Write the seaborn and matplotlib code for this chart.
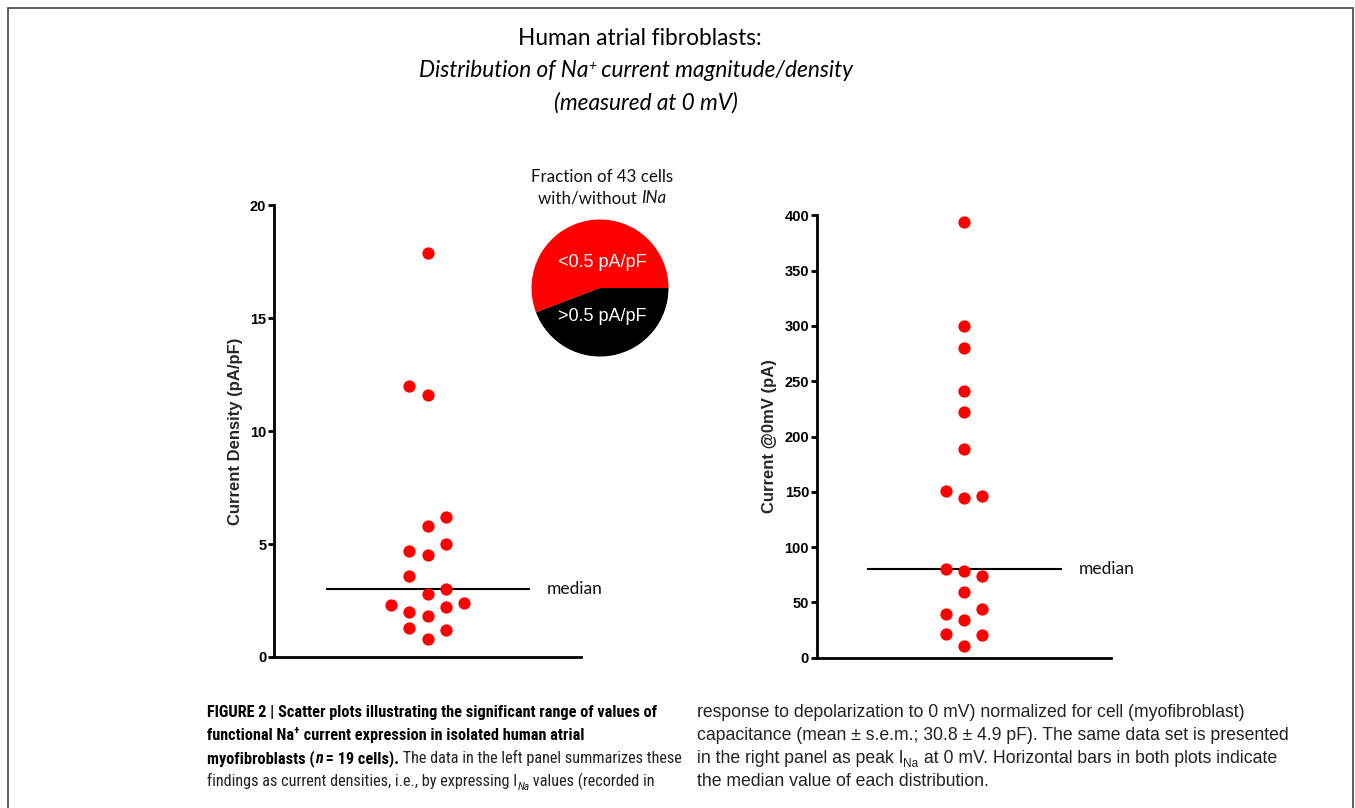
import numpy as np
import pandas as pd
import matplotlib
matplotlib.use("Agg")
import matplotlib.pyplot as plt
from matplotlib import font_manager
from matplotlib.patches import Rectangle
import seaborn as sns

# Peak I_Na at 0 mV for the 19 cells with a measurable current
density = [0.78, 1.18, 1.30, 1.80, 2.00, 2.20, 2.30, 2.39, 2.79, 2.99,
           3.59, 4.51, 4.70, 5.00, 5.79, 6.20, 11.6, 12.0, 17.9]      # pA/pF
current = [10.9, 20.5, 21.1, 34.4, 39.8, 43.7, 59.1, 74.1, 78.4, 80.2,
           144.1, 146.2, 151.0, 189.0, 222.4, 241.4, 280.3, 299.6, 394.2]  # pA
density_ticks = [0, 5, 10, 15, 20]
current_ticks = [0, 50, 100, 150, 200, 250, 300, 350, 400]

# Fraction of all 43 cells with / without a sodium current
pie_counts = [24, 19]
pie_labels = ["<0.5 pA/pF", ">0.5 pA/pF"]
pie_colors = ["#ff0000", "#000000"]

W, H = 1355, 808
sns.set_style("ticks")
plt.rcParams["font.family"] = ["Liberation Sans", "DejaVu Sans"]
HUMANIST = ["Lato", "DejaVu Sans"]


def narrow_font():
    """Best available condensed sans-serif for the legend's first column."""
    fonts = {(f.name, f.stretch) for f in font_manager.fontManager.ttflist}
    names = {n for n, _ in fonts}
    for name in ("Liberation Sans Narrow", "Roboto Condensed",
                 "Open Sans Condensed", "Arial Narrow"):
        if name in names:
            return dict(family=[name, "DejaVu Sans"])
    if any(n == "DejaVu Sans" and "condensed" in str(s) for n, s in fonts):
        return dict(family=["DejaVu Sans"], fontstretch="condensed")
    return dict(family=["Liberation Sans", "DejaVu Sans"])


fig = plt.figure(figsize=(W / 100, H / 100), dpi=100)
renderer = fig.canvas.get_renderer()


def lane_offsets(values, bin_height, step):
    """Prism-style column scatter: rows of nearby values, spread sideways."""
    values = np.asarray(values, dtype=float)
    offsets = np.zeros(len(values))
    row_start, row_idx, k = None, -1, 0
    for i in np.argsort(values, kind="stable"):
        v = values[i]
        if row_start is None or v - row_start >= bin_height:
            row_start, row_idx, k = v, row_idx + 1, 0
        side = 1 if row_idx % 2 == 0 else -1
        lane = 0 if k == 0 else ((k + 1) // 2) * (side if k % 2 == 1 else -side)
        offsets[i] = lane * step
        k += 1
    return offsets


def column_scatter(ax, values, ymax, ticks, ylabel, label_x):
    values = np.asarray(values, dtype=float)
    med = np.median(values)
    df = pd.DataFrame({"lane": lane_offsets(values, 0.045 * ymax, 0.12),
                       "value": values})
    ax.hlines(med, -0.66, 0.67, color="black", lw=1.5, zorder=2)
    sns.scatterplot(data=df, x="lane", y="value", ax=ax, color="#ff0000",
                    s=78, linewidth=0, zorder=3, clip_on=False, legend=False)
    ax.text(0.78, med, "median", family=HUMANIST, fontsize=12.5,
            va="center", ha="left", color="#111111")
    ax.set_xlim(-1, 1)
    ax.set_ylim(0, ymax)
    ax.set_xticks([])
    ax.set_yticks(ticks)
    ax.set_xlabel("")
    ax.set_ylabel(ylabel, fontsize=12, fontweight="bold")
    ax.yaxis.set_label_coords(label_x, 0.5)
    sns.despine(ax=ax)
    for side in ("left", "bottom"):
        ax.spines[side].set_linewidth(2.0)
        ax.spines[side].set_color("black")
    ax.tick_params(axis="y", width=2.0, length=4.5, pad=1, labelsize=10.5,
                   colors="black")
    for lab in ax.get_yticklabels():
        lab.set_fontweight("bold")


ax1 = fig.add_axes([274 / W, 1 - 657 / H, 307 / W, (657 - 205.3) / H])
column_scatter(ax1, density, 20, density_ticks,
               "Current Density (pA/pF)", -0.101)

ax2 = fig.add_axes([816.7 / W, 1 - 657.7 / H, 294.3 / W, (657.7 - 215.3) / H])
column_scatter(ax2, current, 400, current_ticks,
               "Current @0mV (pA)", -0.135)

# Pie of cells with / without current
axp = fig.add_axes([531.5 / W, 1 - 356.5 / H, 137 / W, 137 / H])
axp.pie(pie_counts, colors=pie_colors, startangle=0, counterclock=True,
        wedgeprops=dict(linewidth=0))
axp.set_xlim(-1, 1)
axp.set_ylim(-1, 1)
axp.set_aspect("equal")
axp.text(0.04, 0.37, pie_labels[0], color="white", fontsize=13,
         ha="center", va="center")
axp.text(0.04, -0.41, pie_labels[1], color="white", fontsize=13,
         ha="center", va="center")


def text_width(s, **kw):
    t = fig.text(0, 0, "|" + s + "|", **kw)
    w1 = t.get_window_extent(renderer).width
    t.remove()
    t = fig.text(0, 0, "||", **kw)
    w2 = t.get_window_extent(renderer).width
    t.remove()
    return w1 - w2


def draw_runs(x_px, base_px, runs, ha="left"):
    widths = [text_width(s, **kw) for s, kw, _ in runs]
    x = x_px - (sum(widths) / 2 if ha == "center" else 0)
    for (s, kw, dy), w in zip(runs, widths):
        fig.text(x / W, 1 - (base_px + dy) / H, s, ha="left", va="baseline", **kw)
        x += w


# Heading
t_reg = dict(family=HUMANIST, fontsize=16.3, color="black")
t_it = dict(t_reg, style="italic")
t_sup = dict(t_it, fontsize=10)
draw_runs(640, 45, [("Human atrial fibroblasts:", t_reg, 0)], ha="center")
draw_runs(636, 77, [("Distribution of Na", t_it, 0), ("+", t_sup, -7),
                    (" current magnitude/density", t_it, 0)], ha="center")
draw_runs(646, 110, [("(measured at 0 mV)", t_it, 0)], ha="center")

# Pie caption
p_reg = dict(family=HUMANIST, fontsize=12.2, color="#111111")
draw_runs(602, 182, [("Fraction of 43 cells", p_reg, 0)], ha="center")
draw_runs(602, 203, [("with/without ", p_reg, 0),
                     ("INa", dict(p_reg, style="italic"), 0)], ha="center")

# Figure legend, two columns; the first column is set in a condensed face
# sized so its opening line spans the column width
line1 = "FIGURE 2 | Scatter plots illustrating the significant range of values of"
narrow = narrow_font()
w10 = text_width(line1, fontsize=10, fontweight="bold", **narrow)
lsize = 10 * 448 / w10
l_reg = dict(narrow, fontsize=lsize, color="#222222")
l_bold = dict(l_reg, fontweight="bold", color="black")
l_sup = dict(l_bold, fontsize=lsize * 0.7)
l_sub_it = dict(l_reg, fontsize=lsize * 0.7, style="italic")
r_reg = dict(fontsize=12.7, color="#222222")
r_sub = dict(r_reg, fontsize=8.5)
xl, xr = 207, 697
base = [717, 740, 763, 786]
draw_runs(xl, base[0], [(line1, l_bold, 0)])
draw_runs(xl, base[1], [("functional Na", l_bold, 0), ("+", l_sup, -6),
                        (" current expression in isolated human atrial", l_bold, 0)])
draw_runs(xl, base[2], [("myofibroblasts (", l_bold, 0),
                        ("n", dict(l_bold, style="italic"), 0),
                        (" = 19 cells).", l_bold, 0),
                        (" The data in the left panel summarizes these", l_reg, 0)])
draw_runs(xl, base[3], [("findings as current densities, i.e., by expressing I", l_reg, 0),
                        ("Na", l_sub_it, 4), (" values (recorded in", l_reg, 0)])
draw_runs(xr, base[0], [("response to depolarization to 0 mV) normalized for cell (myofibroblast)", r_reg, 0)])
draw_runs(xr, base[1], [("capacitance (mean \u00b1 s.e.m.; 30.8 \u00b1 4.9 pF). The same data set is presented", r_reg, 0)])
draw_runs(xr, base[2], [("in the right panel as peak I", r_reg, 0), ("Na", r_sub, 4),
                        (" at 0 mV. Horizontal bars in both plots indicate", r_reg, 0)])
draw_runs(xr, base[3], [("the median value of each distribution.", r_reg, 0)])

# Outer frame
fig.patches.append(Rectangle((8 / W, -0.05), (1353 - 8) / W, 1.05 - 7.5 / H,
                             transform=fig.transFigure, fill=False,
                             edgecolor="#444444", linewidth=1.2))

fig.savefig("out.png", dpi=100)
